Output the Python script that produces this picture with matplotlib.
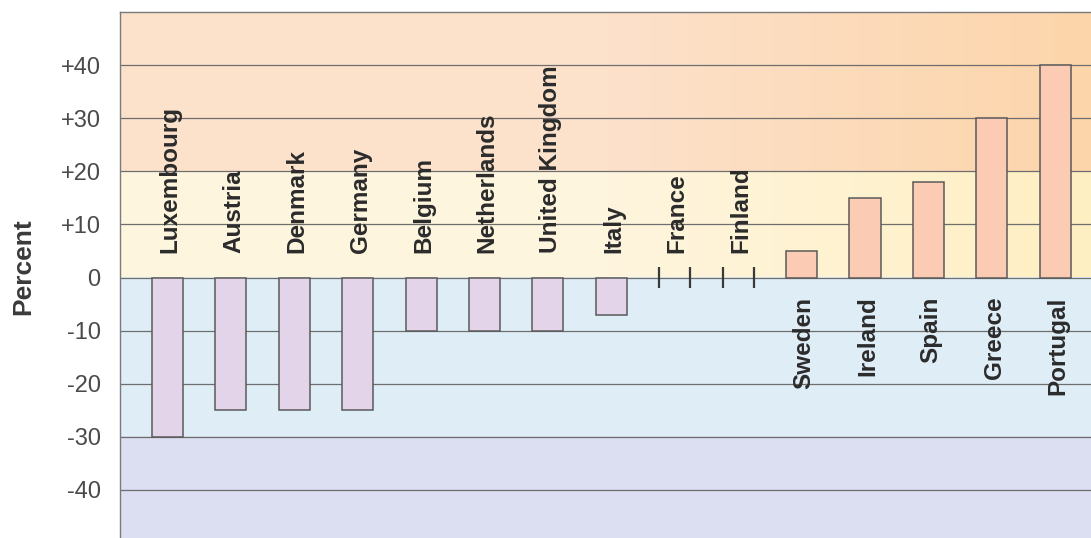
import numpy as np
import matplotlib
matplotlib.use("Agg")
import matplotlib.pyplot as plt
from matplotlib.colors import LinearSegmentedColormap

plt.rcParams['font.family'] = ['Liberation Sans', 'DejaVu Sans']

# 各国变化百分比
countries = ['Luxembourg', 'Austria', 'Denmark', 'Germany', 'Belgium',
             'Netherlands', 'United Kingdom', 'Italy', 'France', 'Finland',
             'Sweden', 'Ireland', 'Spain', 'Greece', 'Portugal']
values = [-30, -25, -25, -25, -10, -10, -10, -7, 0, 0, 5, 15, 18, 30, 40]
yticks = [40, 30, 20, 10, 0, -10, -20, -30, -40]
ytick_labels = ['+40', '+30', '+20', '+10', '0', '-10', '-20', '-30', '-40']

fig = plt.figure(figsize=(10.91, 5.38), dpi=100)
ax = fig.add_axes([0.110, -0.0093, 0.895, 0.987])

x = np.arange(len(countries))
xmin, xmax = -0.749, 14.65
ymin, ymax = -50, 50
bw = 0.49

# 背景色带（左右渐变）
bands = [
    (20, 50, '#fce1cb', '#fdd5aa'),
    (0, 20, '#fef5de', '#feefc2'),
    (-30, 0, '#dfedf7', '#dfedf7'),
    (-50, -30, '#dcdff2', '#dcdff2'),
]
grad = np.linspace(0, 1, 256).reshape(1, -1)
for lo, hi, c1, c2 in bands:
    cmap = LinearSegmentedColormap.from_list('band', [c1, c1, c2])
    ax.imshow(grad, cmap=cmap, aspect='auto', extent=[xmin, xmax, lo, hi],
              zorder=0, interpolation='bicubic')

# 网格线
for yv in range(-40, 50, 10):
    ax.axhline(yv, color='#6e6e6e', lw=0.9, zorder=1)

# 柱子
colors = ['#e4d4ea' if v < 0 else '#fbcbb4' for v in values]
for xi, v, c in zip(x, values, colors):
    if v == 0:
        # 零值只画两条短竖线
        for dx in (-bw / 2, bw / 2):
            ax.plot([xi + dx, xi + dx], [-2, 2], color='#3a3a3a', lw=1.6,
                    zorder=3, solid_capstyle='butt')
    else:
        ax.bar(xi, v, width=bw, color=c, edgecolor='#5a5a5a', lw=1.1, zorder=2)

# 国家名
for xi, v, name in zip(x, values, countries):
    if v <= 0:
        ax.text(xi + 0.04, 4.6, name, rotation=90, ha='center', va='bottom',
                fontsize=17.5, fontweight='bold', color='#2b2b2b', zorder=4)
    else:
        ax.text(xi + 0.04, -3.6, name, rotation=90, ha='center', va='top',
                fontsize=17.5, fontweight='bold', color='#2b2b2b', zorder=4)

ax.set_xlim(xmin, xmax)
ax.set_ylim(ymin, ymax)
ax.set_xticks([])
ax.set_yticks(yticks)
ax.set_yticklabels(ytick_labels, fontsize=17, color='#4a4a4a')
ax.tick_params(axis='y', length=0, pad=14)
for s in ['left', 'top']:
    ax.spines[s].set_color('#7a7a7a')
    ax.spines[s].set_linewidth(1.0)
for s in ['right', 'bottom']:
    ax.spines[s].set_visible(False)

fig.text(0.021, 0.504, 'Percent', rotation=90, ha='center', va='center',
         fontsize=19, fontweight='bold', color='#3a3a3a')

fig.savefig('out.png', dpi=100, facecolor='white')
